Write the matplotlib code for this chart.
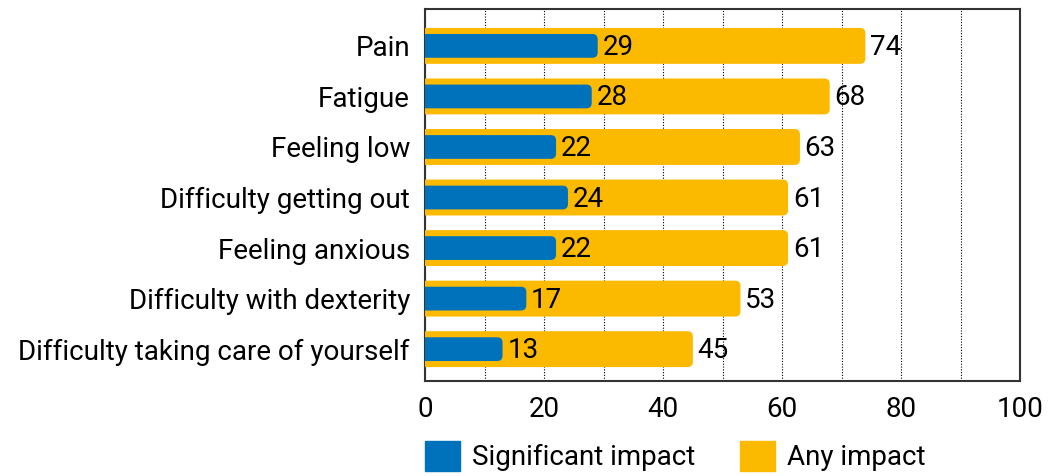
import numpy as np
import matplotlib.pyplot as plt
from matplotlib.patches import FancyBboxPatch, Patch

plt.rcParams['font.family'] = ['Roboto', 'DejaVu Sans']

categories = ['Pain', 'Fatigue', 'Feeling low', 'Difficulty getting out',
              'Feeling anxious', 'Difficulty with dexterity',
              'Difficulty taking care of yourself']
significant = [29, 28, 22, 24, 22, 17, 13]
any_impact = [74, 68, 63, 61, 61, 53, 45]

blue = '#0072BC'
yellow = '#FBB900'
fs = 20

fig = plt.figure(figsize=(10.63, 4.76), dpi=100)
ax = fig.add_axes([0.4, 0.1996, 0.5596, 0.7815])
ax.set_xlim(0, 100)
ax.set_ylim(6.63, -0.73)

# keep the corner rounding circular despite unequal x/y scales
asp = (7.36 / 372) / (100 / 595)


def rbar(y, w, h, color):
    p = FancyBboxPatch((-2, y - h / 2), w + 2, h,
                       boxstyle='round,pad=0,rounding_size=0.9',
                       mutation_aspect=asp, fc=color, ec='none', zorder=3)
    ax.add_patch(p)


for i in range(len(categories)):
    rbar(i, any_impact[i], 0.71, yellow)
    rbar(i, significant[i], 0.47, blue)
    ax.text(significant[i] + 0.8, i + 0.03, str(significant[i]), va='center',
            ha='left', fontsize=fs, zorder=4)
    ax.text(any_impact[i] + 0.8, i + 0.03, str(any_impact[i]), va='center',
            ha='left', fontsize=fs, zorder=4)

ax.set_yticks(range(len(categories)))
ax.set_yticklabels(categories, fontsize=fs)
ax.set_xticks(np.arange(0, 101, 20))
ax.set_xticks(np.arange(10, 100, 10), minor=True)
ax.tick_params(axis='both', length=0, labelsize=fs)
ax.tick_params(axis='x', which='minor', length=0)
ax.tick_params(axis='y', pad=11)
ax.tick_params(axis='x', pad=11)
ax.grid(True, axis='x', which='both', color='black', linestyle=(0, (1, 1.5)),
        linewidth=0.8, zorder=1)
ax.set_axisbelow(True)
for s in ax.spines.values():
    s.set_color('#333333')
    s.set_linewidth(1.5)

handles = [Patch(color=blue, label='Significant impact'),
           Patch(color=yellow, label='Any impact')]
ax.legend(handles=handles, loc='upper left', bbox_to_anchor=(0, -0.162),
          ncol=2, frameon=False, fontsize=fs, handlelength=1.25,
          handleheight=1.25, handletextpad=0.45, columnspacing=1.6,
          borderpad=0, borderaxespad=0)

fig.savefig('out.png', dpi=100)
